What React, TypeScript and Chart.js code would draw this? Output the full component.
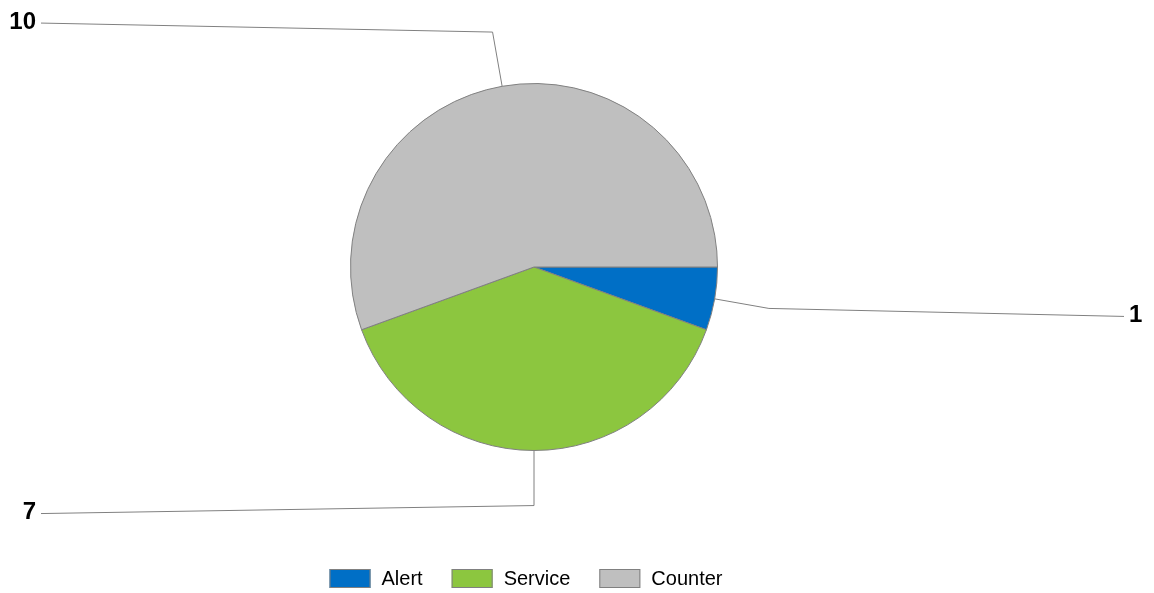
import React, { useEffect, useRef } from "react";
import { Chart, registerables } from "chart.js";

Chart.register(...registerables);

const categories = ["Alert", "Service", "Counter"];
const values = [1, 7, 10];
const sliceColors = ["#006FC6", "#8CC63F", "#BFBFBF"];
const borderGray = "#808080";

const leaderPlugin = {
  id: "leaderLabels",
  afterDraw(chart: any) {
    const ctx = chart.ctx;
    const meta = chart.getDatasetMeta(0);
    const ds = chart.data.datasets[0];
    ctx.save();
    meta.data.forEach((arc: any, i: number) => {
      const p = arc.getProps(["x", "y", "startAngle", "endAngle", "outerRadius"], true);
      const mid = (p.startAngle + p.endAngle) / 2;
      const cos = Math.cos(mid);
      const sin = Math.sin(mid);
      const sx = p.x + cos * p.outerRadius;
      const sy = p.y + sin * p.outerRadius;
      const er = p.outerRadius * 1.3;
      const ex = p.x + cos * er;
      const ey = p.y + sin * er;
      const right = cos > 0.05 || (Math.abs(cos) <= 0.05 && false);
      const endX = right ? chart.width - 30 : 41;
      const endY = ey + (sin >= 0 ? 8 : -9);
      ctx.strokeStyle = borderGray;
      ctx.lineWidth = 1;
      ctx.beginPath();
      ctx.moveTo(sx, sy);
      ctx.lineTo(ex, ey);
      ctx.lineTo(endX, endY);
      ctx.stroke();
      ctx.fillStyle = "#000";
      ctx.font = "bold 24px Arial, 'Liberation Sans', sans-serif";
      ctx.textBaseline = "middle";
      ctx.textAlign = right ? "left" : "right";
      ctx.fillText(String(ds.data[i]), right ? endX + 5 : endX - 5, endY - 1);
    });
    ctx.restore();
  },
};

const legendPlugin = {
  id: "bottomLegend",
  afterDraw(chart: any) {
    const ctx = chart.ctx;
    const labels = chart.data.labels as string[];
    const colors = chart.data.datasets[0].backgroundColor as string[];
    ctx.save();
    ctx.font = "20px Arial, 'Liberation Sans', sans-serif";
    const boxW = 41;
    const boxH = 19;
    const gapText = 11;
    const gapItem = 29;
    const widths = labels.map((l) => ctx.measureText(l).width);
    let total = 0;
    widths.forEach((w, i) => {
      total += boxW + gapText + w + (i < widths.length - 1 ? gapItem : 0);
    });
    let x = 526 - total / 2;
    const boxY = 569;
    labels.forEach((l, i) => {
      ctx.fillStyle = colors[i];
      ctx.fillRect(x, boxY, boxW, boxH);
      ctx.strokeStyle = borderGray;
      ctx.lineWidth = 1;
      ctx.strokeRect(x + 0.5, boxY + 0.5, boxW - 1, boxH - 1);
      ctx.fillStyle = "#000";
      ctx.textBaseline = "middle";
      ctx.textAlign = "left";
      ctx.fillText(l, x + boxW + gapText, boxY + boxH / 2 + 1);
      x += boxW + gapText + widths[i] + gapItem;
    });
    ctx.restore();
  },
};

export default function App() {
  const ref = useRef<HTMLCanvasElement>(null);
  useEffect(() => {
    if (!ref.current) return;
    const chart = new Chart(ref.current, {
      type: "pie",
      data: {
        labels: categories,
        datasets: [
          {
            data: values,
            backgroundColor: sliceColors,
            borderColor: borderGray,
            borderWidth: 1,
          },
        ],
      },
      options: {
        animation: false,
        responsive: false,
        rotation: 90,
        layout: { padding: { top: 83, bottom: 142, left: 300, right: 386 } },
        plugins: {
          legend: { display: false },
          tooltip: { enabled: false },
        },
      },
      plugins: [leaderPlugin, legendPlugin],
    });
    return () => chart.destroy();
  }, []);
  return (
    <div style={{ position: "fixed", left: 0, top: 0, width: 1154, height: 593, background: "#fff" }}>
      <canvas ref={ref} width={1154} height={593} style={{ width: 1154, height: 593 }} />
    </div>
  );
}
